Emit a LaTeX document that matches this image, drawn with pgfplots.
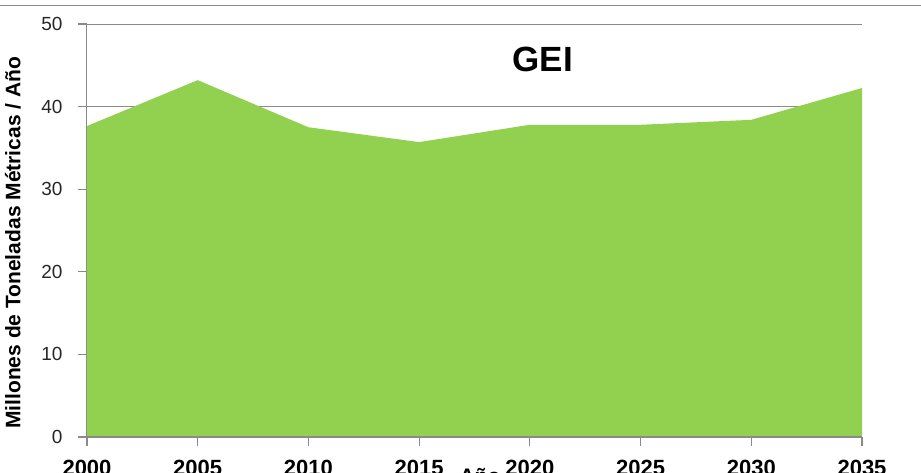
\documentclass[border=0pt]{standalone}
\usepackage{pgfplots}
\pgfplotsset{compat=1.18}
\usepackage{fontspec}
\setmainfont{Liberation Sans}
\definecolor{geigreen}{HTML}{92D050}
\definecolor{gridgray}{HTML}{8A8A8A}

\begin{document}
\begin{tikzpicture}
\begin{axis}[
  at={(87pt,36pt)}, anchor=south west,
  width=775pt, height=413pt, scale only axis,
  xmin=2000, xmax=2035, ymin=0, ymax=50,
  xtick={2000,2005,...,2035}, ytick={0,10,...,50},
  axis x line*=bottom, axis y line*=left,
  axis line style={draw=gridgray, line width=1pt},
  ymajorgrids, grid style={draw=gridgray, line width=0.9pt},
  tick style={draw=gridgray, line width=1.2pt},
  tick align=outside, major tick length=9pt,
  /pgf/number format/1000 sep={},
  /pgf/number format/assume math mode=true,
  xticklabel style={font=\fontsize{22}{24}\selectfont\bfseries, text=black, yshift=-11pt},
  yticklabel style={font=\fontsize{19}{22}\selectfont, text=black!85, xshift=-12pt},
  title={GEI},
  title style={font=\fontsize{35}{38}\selectfont\bfseries, at={(axis description cs:0.588,0.90)}, anchor=center},
  ylabel={Millones de Toneladas Métricas / Año},
  ylabel style={font=\fontsize{21}{24}\selectfont\bfseries, at={(axis description cs:-0.0955,0.47)}, anchor=center},
  xlabel={Año},
  xlabel style={font=\fontsize{21}{24}\selectfont\bfseries, at={(axis description cs:0.507,-0.0956)}, anchor=center},
]
\addplot[fill=geigreen, draw=none] coordinates {
  (2000,37.65) (2005,43.2) (2010,37.5) (2015,35.7)
  (2020,37.8) (2025,37.8) (2030,38.4) (2035,42.25)
} \closedcycle;
\draw[gridgray, line width=1pt] (rel axis cs:0,1) -- (rel axis cs:0,0) -- (rel axis cs:1,0);
\end{axis}
\draw[gridgray, line width=1.3pt] (0pt,467.5pt) -- (921pt,467.5pt);
\pgfresetboundingbox
\useasboundingbox (0pt,0pt) rectangle (921pt,473pt);
\end{tikzpicture}
\end{document}
